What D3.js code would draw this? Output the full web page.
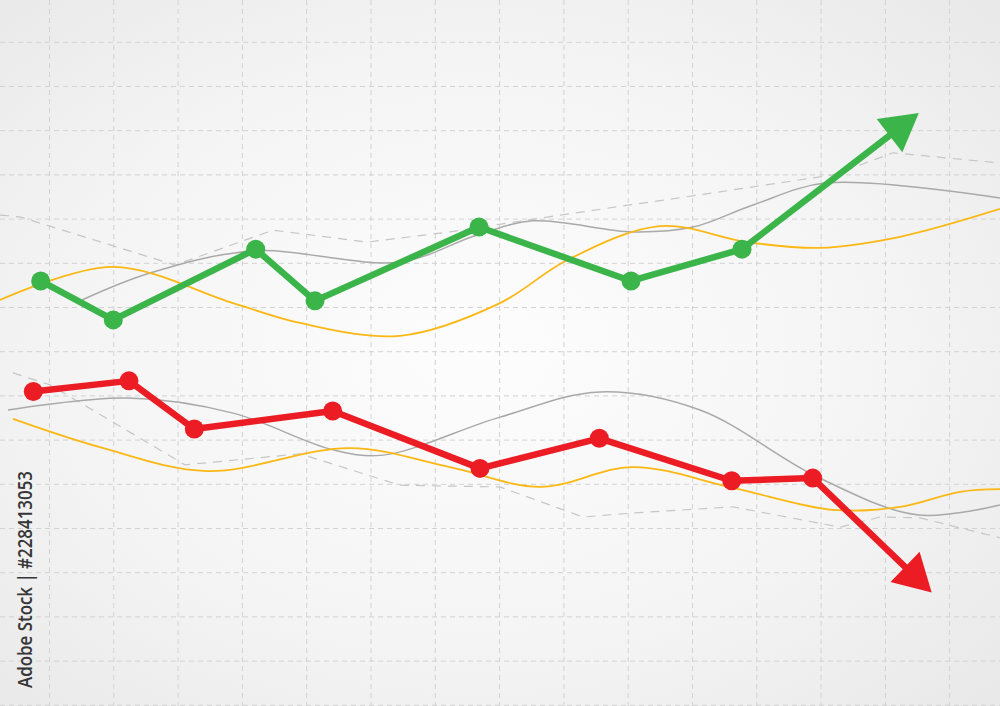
<!DOCTYPE html>
<html>
<head>
<meta charset="utf-8">
<script src="https://cdn.jsdelivr.net/npm/d3@7/dist/d3.min.js"></script>
<style>
html,body{margin:0;padding:0;background:#f2f2f2;}
svg{display:block;}
</style>
</head>
<body>
<svg id="chart" width="1000" height="706"></svg>
<script>
// ---------- DATA (x = time in grid columns, y = value in grid rows) ----------
const gridX = d3.range(-1, 16);
const gridY = d3.range(0, 17);

const upT = [-0.137, 0.992, 3.207, 4.129, 6.680, 9.044, 10.77, 13.52];
const upV = [9.60, 8.72, 10.32, 9.15, 10.82, 9.60, 10.32, 13.40];

const downT = [-0.252, 1.236, 2.252, 4.404, 6.695, 8.551, 10.61, 11.87, 13.72];
const downV = [7.10, 7.34, 6.25, 6.66, 5.36, 6.04, 5.08, 5.14, 2.55];

const upYellowT = [-0.77, 0.988, 2.854, 3.896, 5.45, 7.006, 8.048, 9.494, 10.848, 11.983, 13.227, 14.782];
const upYellowV = [9.17, 9.92, 9.10, 8.65, 8.36, 9.10, 10.07, 10.84, 10.48, 10.35, 10.60, 11.23];

const upGrayT = [0.505, 1.563, 3.165, 5.451, 6.649, 7.520, 9.075, 10.008, 10.941, 12.092, 14.782];
const upGrayV = [9.17, 9.78, 10.28, 10.03, 10.64, 10.96, 10.71, 10.82, 11.32, 11.82, 11.48];

const upDashT = [-0.770, -0.459, 1.952, 3.476, 4.938, 6.229, 7.939, 10.117, 12.185, 13.118, 14.782];
const upDashV = [11.09, 11.05, 9.96, 10.75, 10.48, 10.71, 11.09, 11.55, 12.00, 12.50, 12.27];

const lowGrayT = [-0.645, 1.205, 2.854, 4.409, 5.187, 7.006, 8.561, 10.117, 11.936, 13.491, 14.782];
const lowGrayV = [6.68, 6.95, 6.61, 5.78, 5.66, 6.52, 7.09, 6.68, 5.17, 4.31, 4.53];

const lowYellowT = [-0.568, 0.785, 2.449, 4.673, 6.229, 7.628, 9.075, 10.630, 12.185, 13.227, 14.160, 14.782];
const lowYellowV = [6.48, 5.84, 5.30, 5.82, 5.39, 4.94, 5.39, 4.92, 4.42, 4.49, 4.83, 4.89];

const lowDashT = [-0.568, 0.008, 2.107, 3.896, 5.451, 7.006, 8.297, 9.075, 10.630, 12.294, 12.916, 13.538, 14.782];
const lowDashV = [7.52, 7.25, 5.44, 5.69, 4.98, 4.94, 4.26, 4.35, 4.49, 4.03, 4.26, 4.24, 3.79];

const stampText = "Adobe Stock | #228413053";

// ---------- SETUP ----------
const W = 1000, H = 706;
const svg = d3.select("#chart");
const x = d3.scaleLinear().domain([0, 14]).range([49.5, 949.7]);
const y = d3.scaleLinear().domain([0, 16]).range([705.3, -1.9]);

const zip = (a, b) => a.map((d, i) => [d, b[i]]);

// background
const defs = svg.append("defs");
const rg = defs.append("radialGradient").attr("id", "bg")
  .attr("cx", "48%").attr("cy", "50%").attr("r", "70%");
rg.append("stop").attr("offset", "0%").attr("stop-color", "#fdfdfd");
rg.append("stop").attr("offset", "60%").attr("stop-color", "#f4f4f5");
rg.append("stop").attr("offset", "100%").attr("stop-color", "#e9e9ea");
svg.append("rect").attr("width", W).attr("height", H).attr("fill", "url(#bg)");

// grid
const grid = svg.append("g").attr("stroke", "#d2d2d2").attr("stroke-width", 1)
  .attr("stroke-dasharray", "5,4").attr("fill", "none");
grid.selectAll(".gx").data(gridX).join("line")
  .attr("x1", d => x(d)).attr("x2", d => x(d)).attr("y1", 0).attr("y2", H);
grid.selectAll(".gy").data(gridY).join("line")
  .attr("y1", d => y(d)).attr("y2", d => y(d)).attr("x1", 0).attr("x2", W);

// thin curves
const smooth = d3.line().x(d => x(d[0])).y(d => y(d[1])).curve(d3.curveCatmullRom.alpha(0.5));
const straight = d3.line().x(d => x(d[0])).y(d => y(d[1]));

function thin(data, gen, color, w, dash) {
  svg.append("path").datum(data).attr("d", gen).attr("fill", "none")
    .attr("stroke", color).attr("stroke-width", w)
    .attr("stroke-dasharray", dash || null);
}
thin(zip(upDashT, upDashV), straight, "#c6c6c6", 1.2, "9,7");
thin(zip(lowDashT, lowDashV), straight, "#c6c6c6", 1.2, "9,7");
thin(zip(upGrayT, upGrayV), smooth, "#a9a9a9", 1.5);
thin(zip(lowGrayT, lowGrayV), smooth, "#a9a9a9", 1.5);
thin(zip(upYellowT, upYellowV), smooth, "#fbb713", 1.8);
thin(zip(lowYellowT, lowYellowV), smooth, "#fbb713", 1.8);

// main arrow series
function arrowSeries(T, V, color) {
  const pts = zip(T, V).map(d => [x(d[0]), y(d[1])]);
  const tip = pts[pts.length - 1];
  const prev = pts[pts.length - 2];
  const dx = tip[0] - prev[0], dy = tip[1] - prev[1];
  const L = Math.hypot(dx, dy);
  const ux = dx / L, uy = dy / L;
  const headLen = 37, halfW = 21;
  const base = [tip[0] - ux * headLen, tip[1] - uy * headLen];
  const linePts = pts.slice(0, -1).concat([[base[0] + ux * 4, base[1] + uy * 4]]);
  const g = svg.append("g");
  g.append("path").datum(linePts)
    .attr("d", d3.line())
    .attr("fill", "none").attr("stroke", color).attr("stroke-width", 6.5)
    .attr("stroke-linejoin", "round");
  g.append("polygon")
    .attr("points", [tip, [base[0] - uy * halfW, base[1] + ux * halfW], [base[0] + uy * halfW, base[1] - ux * halfW]]
      .map(p => p.join(",")).join(" "))
    .attr("fill", color);
  g.selectAll("circle").data(pts.slice(0, -1)).join("circle")
    .attr("cx", d => d[0]).attr("cy", d => d[1]).attr("r", 9.5).attr("fill", color);
}
arrowSeries(upT, upV, "#3bb44a");
arrowSeries(downT, downV, "#ec1c24");

// vertical stamp text
svg.append("text")
  .attr("transform", "translate(31.5,688) rotate(-90)")
  .attr("font-family", "'Open Sans', sans-serif")
  .attr("font-weight", 600)
  .attr("font-size", 19)
  .attr("textLength", 217)
  .attr("lengthAdjust", "spacingAndGlyphs")
  .attr("fill", "#363636")
  .text(stampText);
</script>
</body>
</html>
